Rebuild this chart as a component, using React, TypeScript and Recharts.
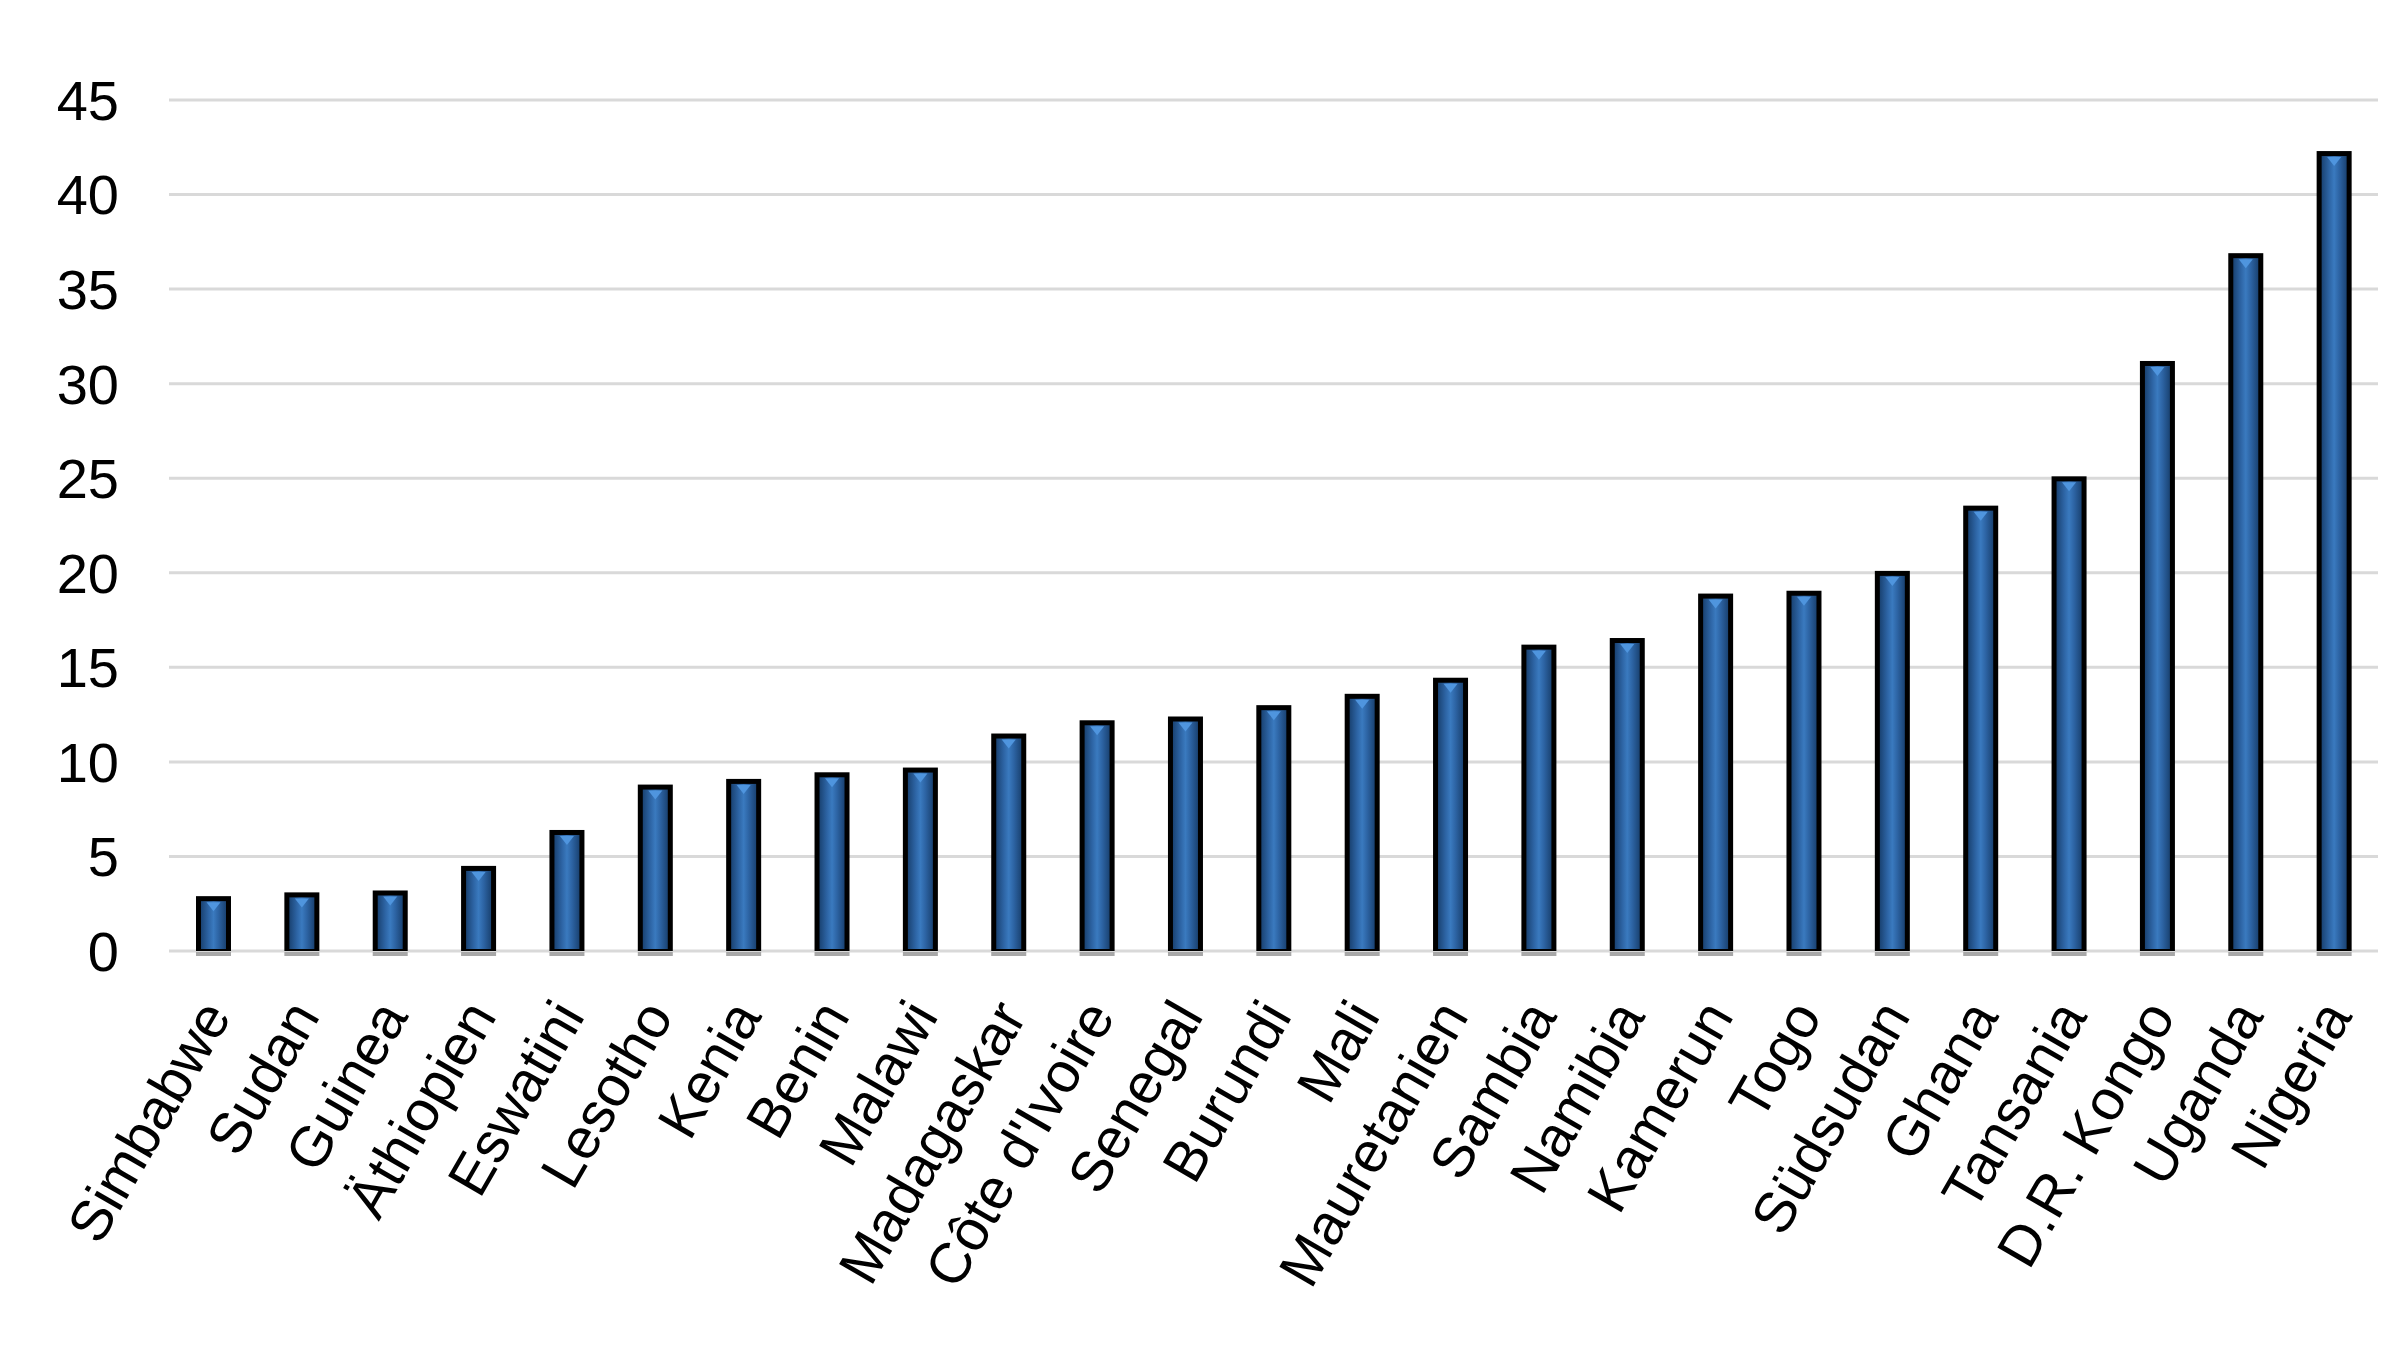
import { Bar, BarChart, CartesianGrid, XAxis, YAxis } from 'recharts'

const countries = [
  'Simbabwe',
  'Sudan',
  'Guinea',
  'Äthiopien',
  'Eswatini',
  'Lesotho',
  'Kenia',
  'Benin',
  'Malawi',
  'Madagaskar',
  "Côte d'Ivoire",
  'Senegal',
  'Burundi',
  'Mali',
  'Mauretanien',
  'Sambia',
  'Namibia',
  'Kamerun',
  'Togo',
  'Südsudan',
  'Ghana',
  'Tansania',
  'D.R. Kongo',
  'Uganda',
  'Nigeria',
]

const values = [
  2.9, 3.1, 3.2, 4.5, 6.4, 8.8, 9.1, 9.45, 9.7, 11.5, 12.2, 12.4, 13.0, 13.6, 14.45, 16.2, 16.55,
  18.9, 19.05, 20.1, 23.55, 25.1, 31.2, 36.9, 42.3,
]

const yTicks = [0, 5, 10, 15, 20, 25, 30, 35, 40, 45]

const data = countries.map((name, i) => ({ name, value: values[i] }))

const FONT = '"Liberation Sans", Arial, sans-serif'

function CountryTick({ x, y, payload }: { x: number; y: number; payload: { value: string } }) {
  const ax = x + 2
  const ay = y + 47
  return (
    <text
      x={ax}
      y={ay}
      dy="0.35em"
      textAnchor="end"
      transform={`rotate(-60, ${ax}, ${ay})`}
      fontSize={57}
      fontFamily={FONT}
      fill="#000"
    >
      {payload.value}
    </text>
  )
}

function BevelBar(props: { x: number; y: number; width: number; height: number }) {
  const { x, y, width, height } = props
  if (height <= 0) return null
  const cx = x + width / 2
  const b = 5
  return (
    <g>
      <rect x={x} y={y + height + 1} width={width} height={4} fill="#a8a8a8" />
      <rect x={x} y={y} width={width} height={height} fill="#000" />
      <rect x={x + b} y={y + b} width={width - 2 * b} height={height - b - 2} fill="url(#barFill)" />
      <polygon points={`${cx - 7},${y + b + 1} ${cx + 7},${y + b + 1} ${cx},${y + b + 10}`} fill="#4f95de" />
    </g>
  )
}

export default function App() {
  return (
    <div style={{ width: 2400, height: 1350, background: '#fff' }}>
      <style>{'body{margin:0}'}</style>
      <BarChart
        width={2400}
        height={1350}
        data={data}
        margin={{ top: 100, right: 22, bottom: 0, left: 0 }}
      >
        <defs>
          <linearGradient id="barFill" x1="0" y1="0" x2="1" y2="0">
            <stop offset="0%" stopColor="#1a4373" />
            <stop offset="30%" stopColor="#2d64a4" />
            <stop offset="50%" stopColor="#3a7abf" />
            <stop offset="70%" stopColor="#2d64a4" />
            <stop offset="100%" stopColor="#1a4373" />
          </linearGradient>
        </defs>
        <CartesianGrid vertical={false} stroke="#d9d9d9" strokeWidth={3} />
        <XAxis
          dataKey="name"
          interval={0}
          height={399}
          axisLine={false}
          tickLine={false}
          tick={CountryTick}
        />
        <YAxis
          domain={[0, 45]}
          ticks={yTicks}
          width={169}
          axisLine={false}
          tickLine={false}
          tickSize={0}
          tickMargin={50}
          tick={{ fontSize: 56, fill: '#000', fontFamily: FONT }}
        />
        <Bar dataKey="value" barSize={35} shape={BevelBar} isAnimationActive={false} />
      </BarChart>
    </div>
  )
}
